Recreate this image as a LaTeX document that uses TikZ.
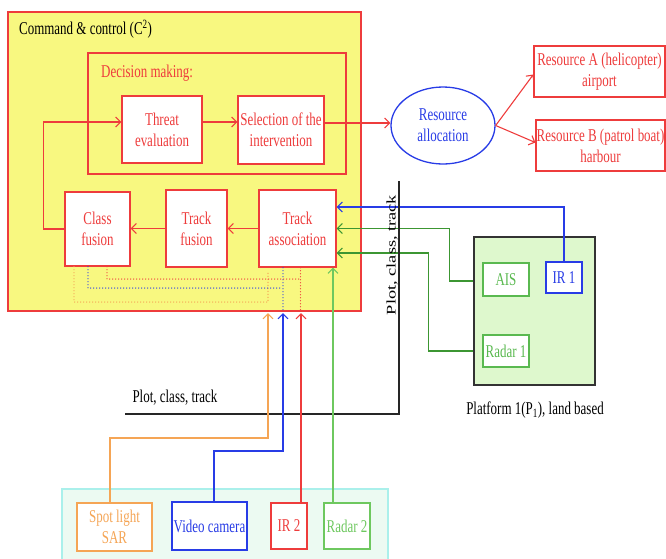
\documentclass[tikz,border=0pt]{standalone}
\usepackage{fontspec}
\setmainfont{Liberation Serif}[FakeStretch=0.72]
\newfontfamily\wideserif{Liberation Serif}[FakeStretch=1.39]
\usetikzlibrary{arrows.meta,shapes.geometric}
\definecolor{myred}{RGB}{238,60,60}
\definecolor{myyellow}{RGB}{248,248,128}
\definecolor{myblue}{RGB}{40,60,230}
\definecolor{mygreen}{RGB}{60,150,50}
\definecolor{mygreentext}{RGB}{90,185,80}
\definecolor{mylightgreen}{RGB}{110,200,95}
\definecolor{myorange}{RGB}{245,165,85}
\definecolor{platfill}{RGB}{222,248,205}
\definecolor{panelfill}{RGB}{236,250,242}
\definecolor{panelborder}{RGB}{170,240,235}
\tikzset{
  basebox/.style={line width=1.3pt, align=center, inner sep=0pt, fill=white},
  rbox/.style={basebox, draw=myred, text=myred},
  arr/.style={-{Straight Barb[length=5pt,width=10pt]}, line width=1.1pt},
  dotl/.style={line width=1.3pt, line cap=round, dash pattern=on 0pt off 3pt},
}
\begin{document}
\begin{tikzpicture}[x=1pt,y=-1pt,font=\fontsize{18}{21}\selectfont]
\useasboundingbox (0,0) rectangle (666,558);

% Command & control
\node[draw=myred, fill=myyellow, line width=1.3pt, minimum width=353, minimum height=299, inner sep=0] (c2) at (184.5,161.5) {};
\node[anchor=west, inner sep=0] (c2lab) at (19,29) {Command \& control (C\textsuperscript{2})};
\node[draw=myred, line width=1.3pt, minimum width=258, minimum height=121, inner sep=0] (dm) at (217,113.5) {};
\node[anchor=west, inner sep=0, text=myred] (dmlab) at (101,73) {Decision making:};

\node[rbox, minimum width=80, minimum height=67] (threat) at (162,129.5) {Threat\\evaluation};
\node[rbox, minimum width=86, minimum height=68] (sel) at (281,130) {Selection of the\\intervention};
\node[rbox, minimum width=65, minimum height=74] (class) at (97.5,229) {Class\\fusion};
\node[rbox, minimum width=61, minimum height=77] (tfus) at (196.5,228.5) {Track\\fusion};
\node[rbox, minimum width=77, minimum height=77] (tassoc) at (297.5,228.5) {Track\\association};

% resource allocation
\node[ellipse, draw=myblue, text=myblue, line width=1.3pt, minimum width=104, minimum height=77, inner sep=0, align=center] (ell) at (443,125.5) {Resource\\allocation};
\node[rbox, minimum width=131, minimum height=51] (resA) at (599.5,71.5) {Resource A (helicopter)\\airport};
\node[rbox, minimum width=129, minimum height=51] (resB) at (600.5,145.5) {Resource B (patrol boat)\\harbour};

% platform
\node[draw=black!80, fill=platfill, line width=1.3pt, minimum width=121, minimum height=148, inner sep=0] (plat) at (534.5,311) {};
\node[basebox, draw=mygreentext, text=mygreentext, minimum width=46, minimum height=33] (ais) at (506,279.5) {AIS};
\node[basebox, draw=myblue, text=myblue, minimum width=36, minimum height=31] (ir1) at (564,277.5) {IR 1};
\node[basebox, draw=mygreentext, text=mygreentext, minimum width=46, minimum height=32] (radar1) at (506,351) {Radar 1};
\node[inner sep=0] (platlab) at (535,410) {Platform 1(P\textsubscript{1}), land based};

% sensor panel
\node[draw=panelborder, fill=panelfill, line width=1.3pt, minimum width=326, minimum height=75, inner sep=0] (panel) at (225,526.5) {};
\node[basebox, draw=myorange, text=myorange, minimum width=75, minimum height=48] (sar) at (114.5,527) {Spot light\\SAR};
\node[basebox, draw=myblue, text=myblue, minimum width=75, minimum height=48] (video) at (209.5,526) {Video camera};
\node[basebox, draw=myred, text=myred, minimum width=36, minimum height=46] (ir2) at (289,526) {IR 2};
\node[basebox, draw=mylightgreen, text=mylightgreen, minimum width=46, minimum height=46] (radar2) at (347,526) {Radar 2};

% coordinates
\coordinate (ptop) at (399,181);
\coordinate (pcorner) at (399,414);
\coordinate (pend) at (125,414);
\coordinate (obend) at (268,438);
\coordinate (oin) at (268,313);
\coordinate (vbend) at (283,451);
\coordinate (vin) at (283,313);
\coordinate (tipy) at (0,313);
\coordinate (odot) at (268,302);
\coordinate (odtop) at (268,272);
\coordinate (bdot) at (281,288);
\coordinate (rdot) at (300,279);

% red flow
\draw[arr, myred] (class.west) -- ++(-21,0) |- ([yshift=7.5pt]threat.west);
\draw[arr, myred] ([yshift=7.5pt]threat.east) -- ([yshift=7.5pt]threat.east -| sel.west);
\draw[arr, myred] ([yshift=7pt]sel.east) -- ([yshift=7pt]sel.east -| ell.west);
\draw[arr, myred] (ell.east) -- ([yshift=-3pt]resA.west);
\draw[arr, myred] (ell.east) -- ([yshift=3pt]resB.west);
\draw[arr, myred] (tfus.west) -- (tfus.west -| class.east);
\draw[arr, myred] (tassoc.west) -- (tassoc.west -| tfus.east);

% platform inputs
\draw[arr, myblue] (ir1.north) |- ([yshift=21.5pt]tassoc.east);
\draw[arr, mygreen] ([yshift=-1.5pt]plat.west |- ais) -- ++(-24,0) |- (tassoc.east);
\draw[arr, mygreen] (plat.west |- radar1) -- ++(-45,0) |- ([yshift=-24.5pt]tassoc.east);

% plot class track line
\draw[line width=1.4pt, black!85] (ptop) -- (pcorner) -- (pend);
\node[rotate=90, inner sep=0, font=\wideserif\fontsize{13.2}{15}\selectfont] (plotv) at (392,255) {Plot, class, track};
\node[inner sep=0] (ploth) at (175,398) {Plot, class, track};

% dotted internal
\draw[dotl, myorange] ([xshift=-23.5pt]class.south) |- (odot) -- (odtop);
\draw[dotl, myblue] ([xshift=-9.5pt]class.south) |- (bdot);
\draw[dotl, myblue] ([xshift=-14.5pt]tassoc.south) -- ([xshift=-14.5pt]tassoc.south |- c2.south);
\draw[dotl, myred] ([xshift=9.5pt]class.south) |- (rdot);
\draw[dotl, myred] ([xshift=3pt]tassoc.south) -- ([xshift=3pt]tassoc.south |- c2.south);

% sensor inputs
\draw[arr, myorange] ([xshift=-4.5pt]sar.north) |- (obend) -- (oin);
\draw[arr, myblue] ([xshift=4.5pt]video.north) |- (vbend) -- (vin);
\draw[arr, myred] ([xshift=12pt]ir2.north) -- ([xshift=12pt]ir2.north |- tipy);
\draw[arr, mylightgreen] ([xshift=-14pt]radar2.north) -- ([xshift=-14pt]radar2.north |- tassoc.south);
\end{tikzpicture}
\end{document}
